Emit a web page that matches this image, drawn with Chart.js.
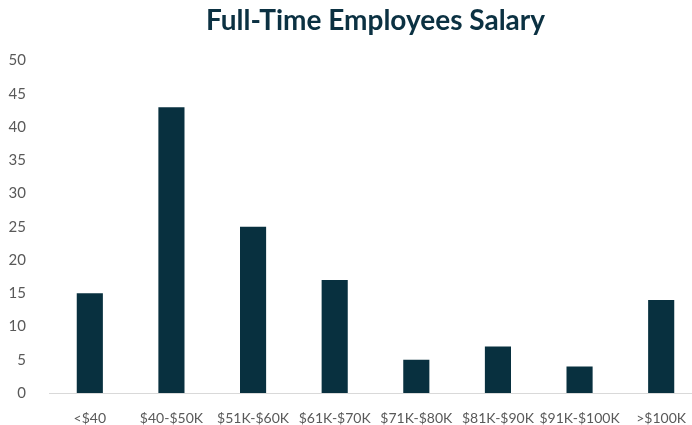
<!DOCTYPE html>
<html>
<head>
<meta charset="utf-8">
<script src="https://cdn.jsdelivr.net/npm/chart.js@4"></script>
<style>
  html, body { margin: 0; padding: 0; background: #fff; overflow: hidden; }
  .wrap { width: 692px; height: 425px; overflow: hidden; }
  .box { width: 712px; height: 425px; }
</style>
</head>
<body>
<div class="wrap"><div class="box"><canvas id="salaryChart"></canvas></div></div>
<script>
const categories = ['<$40', '$40-$50K', '$51K-$60K', '$61K-$70K', '$71K-$80K', '$81K-$90K', '$91K-$100K', '>$100K'];
const employees = [15, 43, 25, 17, 5, 7, 4, 14];
const yTicks = [0, 5, 10, 15, 20, 25, 30, 35, 40, 45, 50];

document.addEventListener('DOMContentLoaded', function () {
    const ctx = document.getElementById('salaryChart').getContext('2d');
    new Chart(ctx, {
        type: 'bar',
        data: {
            labels: categories,
            datasets: [{
                label: 'Employees',
                data: employees,
                backgroundColor: '#08303f',
                barPercentage: 0.32,
                categoryPercentage: 1
            }]
        },
        options: {
            responsive: true,
            maintainAspectRatio: false,
            animation: false,
            layout: { padding: { left: 0, right: 10, top: 0, bottom: 0 } },
            plugins: {
                legend: { display: false },
                tooltip: { enabled: false },
                title: {
                    display: true,
                    fullSize: false, // centre over the plot area, not the canvas
                    text: 'Full-Time Employees Salary',
                    color: '#0b3142',
                    font: { family: 'Lato', size: 28, weight: 'bold' },
                    padding: { top: 4, bottom: 23 }
                }
            },
            scales: {
                x: {
                    grid: { display: false },
                    border: { display: true, color: '#d9d9d9', width: 1 },
                    ticks: {
                        color: '#595959',
                        font: { family: 'Lato', size: 14 },
                        padding: 9,
                        maxRotation: 0,
                        autoSkip: false
                    },
                    afterFit: function (scale) { scale.height = 32; }
                },
                y: {
                    min: 0,
                    max: 50,
                    grid: { display: false },
                    border: { display: false },
                    afterBuildTicks: function (scale) {
                        scale.ticks = yTicks.map(v => ({ value: v }));
                    },
                    ticks: {
                        color: '#595959',
                        font: { family: 'Lato', size: 15 },
                        padding: 15
                    },
                    afterFit: function (scale) { scale.width = 49; }
                }
            }
        }
    });
});
</script>
</body>
</html>
